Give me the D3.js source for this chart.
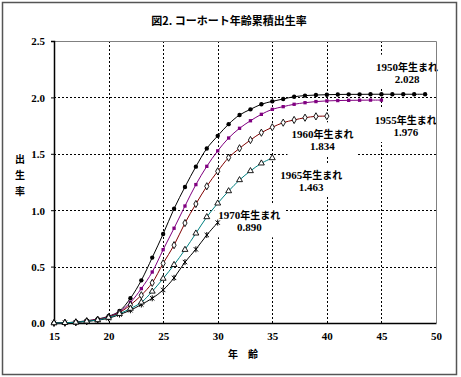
<!DOCTYPE html>
<html>
<head>
<meta charset="utf-8">
<script src="https://cdn.jsdelivr.net/npm/d3@7"></script>
<style>
  body { margin: 0; background: #fff; }
  svg { display: block; }
</style>
</head>
<body>
<svg id="chart"></svg>
<script>
// cohort cumulative fertility by age
const cohorts = ["1950", "1955", "1960", "1965", "1970"];
const startAge = 15;
const cfr1950 = [0.000, 0.002, 0.008, 0.020, 0.035, 0.060, 0.106, 0.219, 0.378, 0.580, 0.789, 1.013, 1.206, 1.386, 1.547, 1.659, 1.763, 1.844, 1.894, 1.939, 1.965, 1.986, 2.006, 2.016, 2.021, 2.024, 2.026, 2.027, 2.027, 2.028, 2.028, 2.028, 2.028, 2.028, 2.028];
const cfr1955 = [0.000, 0.002, 0.007, 0.018, 0.032, 0.055, 0.100, 0.182, 0.305, 0.452, 0.650, 0.840, 1.037, 1.227, 1.389, 1.526, 1.640, 1.726, 1.793, 1.850, 1.894, 1.918, 1.939, 1.953, 1.963, 1.969, 1.972, 1.974, 1.975, 1.976, 1.976];
const cfr1960 = [0.000, 0.002, 0.006, 0.016, 0.030, 0.052, 0.092, 0.160, 0.246, 0.356, 0.529, 0.690, 0.886, 1.055, 1.212, 1.345, 1.466, 1.549, 1.622, 1.687, 1.735, 1.776, 1.800, 1.820, 1.832, 1.834];
const cfr1965 = [0.000, 0.002, 0.006, 0.015, 0.027, 0.048, 0.082, 0.128, 0.183, 0.280, 0.394, 0.516, 0.650, 0.795, 0.940, 1.061, 1.170, 1.268, 1.348, 1.416, 1.463];
const cfr1970 = [0.000, 0.002, 0.006, 0.014, 0.025, 0.042, 0.075, 0.113, 0.164, 0.219, 0.293, 0.400, 0.540, 0.653, 0.780, 0.890];
const seriesValues = [cfr1950, cfr1955, cfr1960, cfr1965, cfr1970];
const finalLabels = ["2.028", "1.976", "1.834", "1.463", "0.890"];
const xTicks = [15, 20, 25, 30, 35, 40, 45, 50];
const yTicks = [0.0, 0.5, 1.0, 1.5, 2.0, 2.5];

const W = 461, H = 377;
const margin = {top: 41, right: 25, bottom: 54, left: 54};
const width = W - margin.left - margin.right;
const height = H - margin.top - margin.bottom;

const colors = ["#000000", "#800080", "#800000", "#008080", "#000000"];
const markers = ["dot", "square", "diamond", "triangle", "star"];
// label anchor (first line baseline) in data units [age, value]
const labelPos = [[47.35, 2.237], [47.23, 1.764], [39.6, 1.637], [38.56, 1.277], [32.9, 0.919]];

const jpFont = "'Noto Sans CJK JP', sans-serif";
const numFont = "'Liberation Serif', 'Times New Roman', serif";

const svg = d3.select("#chart").attr("width", W).attr("height", H);

svg.append("rect")
  .attr("x", 2.5).attr("y", 2.5)
  .attr("width", 454).attr("height", 372)
  .attr("fill", "#fff")
  .attr("stroke", "#555").attr("stroke-width", 1.5);

svg.append("text")
  .attr("x", 229).attr("y", 25)
  .attr("text-anchor", "middle")
  .style("font-family", jpFont)
  .style("font-size", "11px")
  .style("font-weight", "bold")
  .text("図2. コーホート年齢累積出生率");

const chart = svg.append("g")
  .attr("transform", `translate(${margin.left},${margin.top})`);

const x = d3.scaleLinear().domain([15, 50]).range([0, width]);
const y = d3.scaleLinear().domain([0, 2.5]).range([height, 0]);

// grid
chart.append("g")
  .selectAll("line")
  .data(yTicks.filter(d => d > 0 && d < 2.5))
  .join("line")
  .attr("x1", 0).attr("x2", width)
  .attr("y1", d => Math.round(y(d)) + 0.5).attr("y2", d => Math.round(y(d)) + 0.5)
  .attr("stroke", "#000").attr("stroke-dasharray", "2,2");

chart.append("g")
  .selectAll("line")
  .data(xTicks.filter(d => d > 15 && d < 50))
  .join("line")
  .attr("x1", d => Math.round(x(d)) + 0.5).attr("x2", d => Math.round(x(d)) + 0.5)
  .attr("y1", 0).attr("y2", height)
  .attr("stroke", "#000").attr("stroke-dasharray", "2,2");

// label boxes (white, hiding grid behind the text)
const labels = chart.append("g");
cohorts.forEach((c, i) => {
  const g = labels.append("g")
    .attr("transform", `translate(${x(labelPos[i][0])},${y(labelPos[i][1])})`);
  const t = g.append("text")
    .attr("text-anchor", "middle")
    .style("font-weight", "bold")
    .style("font-size", "11px");
  t.append("tspan").style("font-family", numFont).text(c);
  t.append("tspan").style("font-family", jpFont).style("font-size", "10px").text("年生まれ");
  g.append("text")
    .attr("text-anchor", "middle")
    .attr("y", 12)
    .style("font-family", numFont)
    .style("font-weight", "bold")
    .style("font-size", "11px")
    .text(finalLabels[i]);
  const bb = g.node().getBBox();
  g.insert("rect", ":first-child")
    .attr("x", bb.x - 4).attr("y", bb.y - 4)
    .attr("width", bb.width + 8).attr("height", bb.height + 8)
    .attr("fill", "#fff");
});

// top & right frame of the plot
chart.append("path")
  .attr("d", `M0,0.5H${width + 0.5}V${height}`)
  .attr("fill", "none").attr("stroke", "#808080");

// axes
const xAxis = d3.axisBottom(x).tickValues(xTicks).tickSize(0).tickPadding(9)
  .tickFormat(d3.format("d"));
const yAxis = d3.axisLeft(y).tickValues(yTicks).tickSize(3).tickPadding(6)
  .tickFormat(d3.format(".1f"));

const xAxisG = chart.append("g")
  .attr("transform", `translate(0,${height})`)
  .call(xAxis);
const yAxisG = chart.append("g").call(yAxis);
[xAxisG, yAxisG].forEach(g => {
  g.select(".domain").attr("stroke", "#000").attr("stroke-width", 1.5);
  g.selectAll("text")
    .style("font-family", numFont)
    .style("font-weight", "bold")
    .style("font-size", "11px")
    .attr("fill", "#000");
});
yAxisG.selectAll("text").attr("dy", "0.35em");

// series
const line = d3.line()
  .x((d, i) => x(startAge + i))
  .y(d => y(d))
  .curve(d3.curveCatmullRom.alpha(0.5));

const symbolFor = {
  dot: d3.symbol(d3.symbolCircle, 15),
  square: d3.symbol(d3.symbolSquare, 11),
  diamond: d3.symbol(d3.symbolDiamond, 15),
  triangle: d3.symbol(d3.symbolTriangle, 15),
  star: d3.symbol(d3.symbolTimes, 14)
};

const order = [0, 1, 2, 4, 3];
order.forEach(i => {
  const vals = seriesValues[i];
  const g = chart.append("g");
  g.append("path")
    .datum(vals)
    .attr("d", line)
    .attr("fill", "none")
    .attr("stroke", colors[i])
    .attr("stroke-width", 1);
  const m = markers[i];
  const pts = g.selectAll("path.pt")
    .data(vals)
    .join("path")
    .attr("class", "pt")
    .attr("transform", (d, k) => `translate(${x(startAge + k)},${y(d)})`)
    .attr("d", symbolFor[m]());
  if (m === "dot") pts.attr("fill", "#000");
  else if (m === "square") pts.attr("fill", colors[i]);
  else if (m === "star") {
    pts.attr("fill", "none").attr("stroke", "#000");
    g.selectAll("line.st").data(vals).join("line")
      .attr("x1", (d, k) => x(startAge + k)).attr("x2", (d, k) => x(startAge + k))
      .attr("y1", d => y(d) - 3).attr("y2", d => y(d) + 3)
      .attr("stroke", "#000");
  } else pts.attr("fill", "#fff").attr("stroke", "#000").attr("stroke-width", 0.9);
});

// axis titles
svg.append("text")
  .attr("x", 243).attr("y", 358)
  .attr("text-anchor", "middle")
  .style("font-family", jpFont)
  .style("font-size", "10px")
  .style("font-weight", "bold")
  .text("年\u3000齢");

svg.append("g")
  .selectAll("text")
  .data(["出", "生", "率"])
  .join("text")
  .attr("x", 20)
  .attr("y", (d, i) => 163 + i * 16)
  .attr("text-anchor", "middle")
  .style("font-family", jpFont)
  .style("font-size", "10px")
  .style("font-weight", "bold")
  .text(d => d);
</script>
</body>
</html>
